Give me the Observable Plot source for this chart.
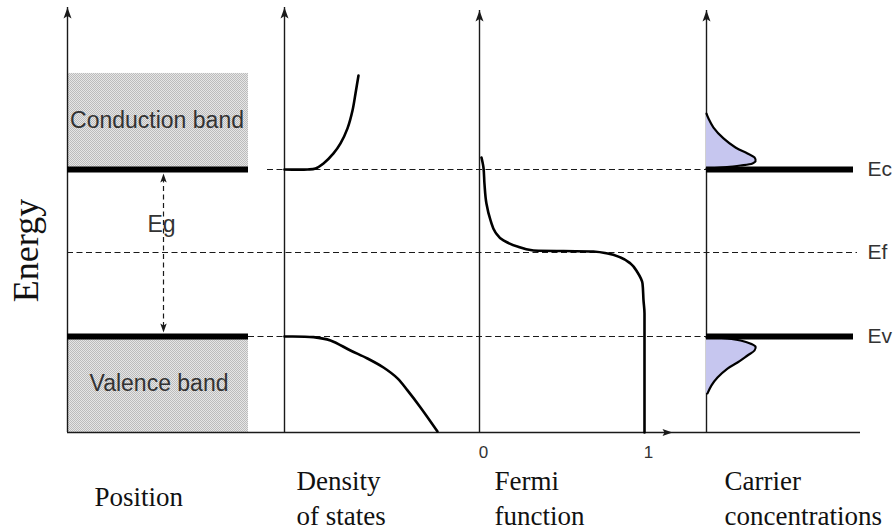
<!DOCTYPE html>
<html>
<head>
<meta charset="utf-8">
<script src="https://cdn.jsdelivr.net/npm/d3@7"></script>
<script src="https://cdn.jsdelivr.net/npm/@observablehq/plot@0.6"></script>
<style>
  html, body { margin: 0; padding: 0; background: #fff; }
  #chart svg { display: block; }
</style>
</head>
<body>
<div id="chart"></div>
<script>
// ---------------- data (energies normalised: Ev = 0, Ec = 1) ----------------
const levelNames    = ["Ec", "Ef", "Ev"];
const levelEnergies = [1.0, 0.503, 0.0];

const conductionBandTop = 1.575;   // top of the shaded conduction band
const energyFloor       = -0.575;  // energy at the horizontal base line
const energyTop         = 1.964;   // tip of the energy arrows

// density of states, g(E) in arbitrary units
const dosCondG = [0, 0.23, 0.31, 0.39, 0.49, 0.56, 0.63, 0.68, 0.71, 0.74];
const dosCondE = [1.0, 1.0, 1.006, 1.036, 1.096, 1.156, 1.246, 1.353, 1.455, 1.563];
const dosValG  = [0, 0.29, 0.46, 0.66, 0.83, 0.99, 1.13, 1.23, 1.36, 1.53];
const dosValE  = [0, -0.004, -0.024, -0.084, -0.132, -0.186, -0.251, -0.323, -0.425, -0.569];

// Fermi function f(E)
const fermiF = [0.012, 0.024, 0.030, 0.042, 0.067, 0.097, 0.145, 0.230, 0.327, 0.690, 0.776, 0.855, 0.915, 0.958, 0.988, 0.994, 1.0, 1.0];
const fermiE = [1.072, 1.012, 0.916, 0.796, 0.695, 0.623, 0.575, 0.539, 0.515, 0.509, 0.497, 0.473, 0.437, 0.383, 0.317, 0.216, 0.138, -0.575];

// carrier concentrations (arbitrary units)
const electronN = [0, 0.04, 0.14, 0.34, 0.58, 0.82, 0.96, 0.98, 0.92, 0.68, 0.28, 0];
const electronE = [1.335, 1.305, 1.251, 1.186, 1.132, 1.096, 1.072, 1.048, 1.036, 1.024, 1.012, 1.006];
const holeP     = [0, 0.5, 0.82, 0.98, 0.96, 0.82, 0.62, 0.42, 0.22, 0.10, 0.02];
const holeE     = [-0.006, -0.015, -0.036, -0.060, -0.084, -0.114, -0.156, -0.192, -0.246, -0.293, -0.341];

// band gap arrow ends
const gapArrowTop = 0.976, gapArrowBottom = 0.024;

// texts
const bandLabels   = ["Conduction band", "Valence band", "Eg"];
const panelLabels  = ["Position", "Density\nof states", "Fermi\nfunction", "Carrier\nconcentrations"];
const fermiTicks   = [0, 1];
const axisTitle    = "Energy";

// ---------------- layout (diagram units along x) ----------------
const L = {
  axisX: [67, 284, 479, 706],
  axisTipPx: [7, 7, 10, 10],
  bandRight: 248,
  baseRight: 860,
  dosUnit: 100,
  fermiUnit: 165,
  carrierUnit: 50,
  ecDashed: [267, 706],
  efDashedRight: 857,
  barsLeft: [67, 248],
  barsRight: [706, 853],
  gapX: 163,
  levelLabelX: 867
};
const yPix = d3.scaleLinear().domain([energyFloor, energyTop]).range([432, 8]);
const eAt = p => yPix.invert(p);

const dosX = g => L.axisX[1] + g * L.dosUnit;
const fermiX = f => L.axisX[2] + f * L.fermiUnit;
const carX = n => L.axisX[3] + n * L.carrierUnit;

const dosCond = dosCondG.map((g, i) => ({x: dosX(g), y: dosCondE[i]}));
const dosVal  = dosValG.map((g, i) => ({x: dosX(g), y: dosValE[i]}));
const fermi   = fermiF.map((f, i) => ({x: fermiX(f), y: fermiE[i]}));
const electrons = electronN.map((n, i) => ({x1: L.axisX[3], x2: carX(n), y: electronE[i]}));
const holes     = holeP.map((p, i) => ({x1: L.axisX[3], x2: carX(p), y: holeE[i]}));

const axes = L.axisX.map((x, i) => ({x, tip: eAt(L.axisTipPx[i])}));

const bands = [
  {x1: L.axisX[0], x2: L.bandRight, y1: levelEnergies[0], y2: conductionBandTop},
  {x1: L.axisX[0], x2: L.bandRight, y1: energyFloor, y2: levelEnergies[2]}
];

const dashed = [
  {y: levelEnergies[0], x1: L.ecDashed[0], x2: L.ecDashed[1]},
  {y: levelEnergies[1], x1: L.axisX[0], x2: L.efDashedRight},
  {y: levelEnergies[2], x1: L.bandRight, x2: L.axisX[3]}
];

const bars = [
  {y: levelEnergies[0], x1: L.barsLeft[0], x2: L.barsLeft[1]},
  {y: levelEnergies[2], x1: L.barsLeft[0], x2: L.barsLeft[1]},
  {y: levelEnergies[0], x1: L.barsRight[0], x2: L.barsRight[1]},
  {y: levelEnergies[2], x1: L.barsRight[0], x2: L.barsRight[1]}
];

// arrowhead symbols (tip at the data point)
const headUp = {draw(c) { c.moveTo(0, 0); c.lineTo(4, 11); c.lineTo(0, 8.5); c.lineTo(-4, 11); c.closePath(); }};
const smallUp = {draw(c) { c.moveTo(0, 0); c.lineTo(3.2, 9); c.lineTo(0, 7); c.lineTo(-3.2, 9); c.closePath(); }};
const smallDown = {draw(c) { c.moveTo(0, 0); c.lineTo(3.2, -9); c.lineTo(0, -7); c.lineTo(-3.2, -9); c.closePath(); }};
const headRight = {draw(c) { c.moveTo(0, 0); c.lineTo(-10, -3.5); c.lineTo(-8, 0); c.lineTo(-10, 3.5); c.closePath(); }};

const SERIF = "'Liberation Serif', 'Times New Roman', serif";
const SANS = "'Liberation Sans', Arial, sans-serif";
const INK = "#1a1a1a";

const bandText = [
  {x: (L.axisX[0] + L.bandRight) / 2 - 1, y: eAt(127), t: bandLabels[0]},
  {x: (L.axisX[0] + L.bandRight) / 2 + 1, y: eAt(390), t: bandLabels[1]},
  {x: 161, y: eAt(231), t: bandLabels[2]}
];
const panelText = [
  {x: 94, y: eAt(505), t: panelLabels[0]},
  {x: 296, y: eAt(524), t: panelLabels[1]},
  {x: 494, y: eAt(524), t: panelLabels[2]},
  {x: 724, y: eAt(524), t: panelLabels[3]}
];
const levelText = levelNames.map((t, i) => ({x: L.levelLabelX, y: levelEnergies[i], t}));
const tickText = fermiTicks.map(f => ({x: fermiX(f) + 4, y: eAt(457), t: String(f)}));

const svg = Plot.plot({
  width: 896,
  height: 531,
  margin: 0,
  x: {domain: [0, 896], range: [0, 896], axis: null},
  y: {domain: [energyFloor, energyTop], range: [432, 8], axis: null},
  style: {background: "#fff"},
  marks: [
    Plot.rect(bands, {x1: "x1", x2: "x2", y1: "y1", y2: "y2", fill: "url(#stipple)"}),
    Plot.ruleY(dashed, {y: "y", x1: "x1", x2: "x2", stroke: INK, strokeWidth: 1.1, strokeDasharray: "6,3.5"}),
    Plot.ruleX(axes, {x: "x", y1: energyFloor, y2: "tip", stroke: INK, strokeWidth: 1.4}),
    Plot.ruleY([energyFloor], {x1: L.axisX[0], x2: L.baseRight, stroke: INK, strokeWidth: 1.4}),
    Plot.dot(axes, {x: "x", y: "tip", symbol: headUp, r: 4, fill: INK, stroke: "none"}),
    Plot.dot([{x: 672, y: energyFloor}], {x: "x", y: "y", symbol: headRight, r: 4, fill: INK, stroke: "none"}),
    // density of states
    Plot.line(dosCond, {x: "x", y: "y", stroke: "#000", strokeWidth: 2.6, curve: "catmull-rom"}),
    Plot.line(dosVal, {x: "x", y: "y", stroke: "#000", strokeWidth: 2.6, curve: "catmull-rom"}),
    // Fermi function
    Plot.line(fermi, {x: "x", y: "y", stroke: "#000", strokeWidth: 2.6, curve: "monotone-y"}),
    // carrier concentrations
    Plot.areaX(electrons, {y: "y", x1: "x1", x2: "x2", fill: "#c6c6ef", curve: "catmull-rom"}),
    Plot.areaX(holes, {y: "y", x1: "x1", x2: "x2", fill: "#c6c6ef", curve: "catmull-rom"}),
    Plot.line(electrons, {x: "x2", y: "y", stroke: "#000", strokeWidth: 2.2, curve: "catmull-rom"}),
    Plot.line(holes, {x: "x2", y: "y", stroke: "#000", strokeWidth: 2.2, curve: "catmull-rom"}),
    // band edges
    Plot.ruleY(bars, {y: "y", x1: "x1", x2: "x2", stroke: "#000", strokeWidth: 6}),
    // band gap arrow
    Plot.ruleX([L.gapX], {y1: gapArrowBottom + 0.03, y2: gapArrowTop - 0.03, stroke: INK, strokeWidth: 1.2, strokeDasharray: "5,3.5"}),
    Plot.dot([{x: L.gapX, y: gapArrowTop}], {x: "x", y: "y", symbol: smallUp, r: 3, fill: INK, stroke: "none"}),
    Plot.dot([{x: L.gapX, y: gapArrowBottom}], {x: "x", y: "y", symbol: smallDown, r: 3, fill: INK, stroke: "none"}),
    // texts
    Plot.text(bandText, {x: "x", y: "y", text: "t", fontFamily: SANS, fontSize: 23, fill: "#333", textAnchor: "middle", lineAnchor: "bottom"}),
    Plot.text(levelText, {x: "x", y: "y", text: "t", fontFamily: SANS, fontSize: 21, fill: "#333", textAnchor: "start", lineAnchor: "middle"}),
    Plot.text(tickText, {x: "x", y: "y", text: "t", fontFamily: SANS, fontSize: 17, fill: "#333", textAnchor: "middle", lineAnchor: "bottom"}),
    Plot.text(panelText, {x: "x", y: "y", text: "t", fontFamily: SERIF, fontSize: 27, fill: "#111", textAnchor: "start", lineAnchor: "bottom", lineHeight: 1.26}),
    Plot.text([{x: 37, y: eAt(250), t: axisTitle}], {x: "x", y: "y", text: "t", rotate: -90, fontFamily: SERIF, fontSize: 36, fill: "#111", textAnchor: "middle", lineAnchor: "bottom"})
  ]
});

// stipple pattern for the shaded bands
const defs = d3.select(svg).insert("defs", ":first-child");
const pat = defs.append("pattern").attr("id", "stipple").attr("patternUnits", "userSpaceOnUse").attr("width", 2).attr("height", 2);
pat.append("rect").attr("width", 2).attr("height", 2).attr("fill", "#e6e6e6");
pat.append("rect").attr("width", 1).attr("height", 1).attr("fill", "#bcbcbc");
pat.append("rect").attr("x", 1).attr("y", 1).attr("width", 1).attr("height", 1).attr("fill", "#bcbcbc");

document.getElementById("chart").appendChild(svg);
</script>
</body>
</html>
